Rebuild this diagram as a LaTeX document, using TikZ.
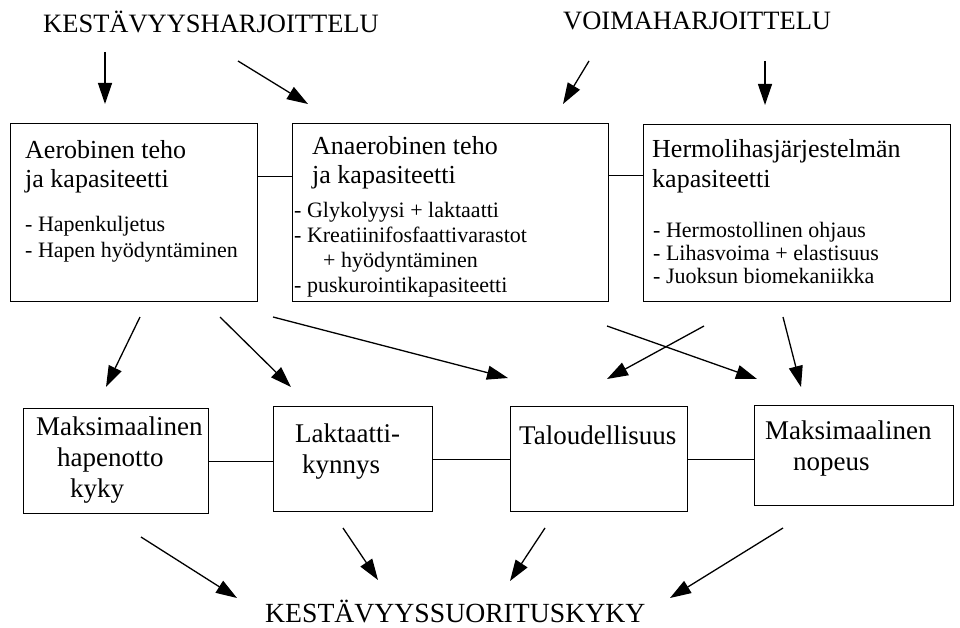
\documentclass[tikz,border=0pt]{standalone}
\usepackage{fontspec}
\setmainfont{Liberation Serif}
\usetikzlibrary{arrows.meta}

\begin{document}
\begin{tikzpicture}[x=1pt,y=-1pt,
    box/.style={draw,line width=1.3pt,anchor=north west,inner sep=0pt},
    head/.style={anchor=base west,inner sep=0pt,font=\fontsize{26.5}{30}\selectfont},
    ttl/.style={anchor=base west,inner sep=0pt,align=left,font=\fontsize{26}{29}\selectfont},
    lst/.style={anchor=base west,inner sep=0pt,align=left,font=\fontsize{22}{25}\selectfont},
    btxt/.style={anchor=base west,inner sep=0pt,align=left,font=\fontsize{27}{31}\selectfont},
    arr/.style={-{Triangle[length=21pt,width=14pt]},line width=1.3pt},
    lnk/.style={line width=1.3pt}]
    \fill[white] (0,0) rectangle (960,628);
    \useasboundingbox (0,0) rectangle (960,628);
    % otsikot
    \node[head] (kesto) at (43,33) {KESTÄVYYSHARJOITTELU};
    \node[head] (voima) at (563,30) {VOIMAHARJOITTELU};
    \node[head,font=\fontsize{27.7}{31}\selectfont] (suor) at (265,622) {KESTÄVYYSSUORITUSKYKY};
    % ylärivi
    \node[box,minimum width=247pt,minimum height=178pt] (aero) at (10,123) {};
    \node[box,minimum width=316pt,minimum height=178pt] (anaero) at (292,123) {};
    \node[box,minimum width=307pt,minimum height=177pt] (hermo) at (643,124) {};
    \node[ttl] (aerot) at (25,188) {Aerobinen teho\\ja kapasiteetti};
    \node[lst] (aerol) at (25,257) {- Hapenkuljetus\\- Hapen hyödyntäminen};
    \node[ttl] (anaerot) at (312,184) {Anaerobinen teho\\ja kapasiteetti};
    \node[lst] (anaerol) at (294,292) {- Glykolyysi + laktaatti\\- Kreatiinifosfaattivarastot\\\hspace*{29pt}+ hyödyntäminen\\- puskurointikapasiteetti};
    \node[ttl,font=\fontsize{26}{30}\selectfont] (hermot) at (652,188) {Hermolihasjärjestelmän\\kapasiteetti};
    \node[lst,font=\fontsize{22}{23}\selectfont] (herml) at (653,283) {- Hermostollinen ohjaus\\- Lihasvoima + elastisuus\\- Juoksun biomekaniikka};
    \draw[lnk] ([yshift=36pt]aero.east) -- ([yshift=36pt]aero.east -| anaero.west);
    \draw[lnk] ([yshift=37pt]anaero.east) -- ([yshift=37pt]anaero.east -| hermo.west);
    % alarivi
    \node[box,minimum width=185pt,minimum height=105pt] (hapen) at (23,408) {};
    \node[box,minimum width=159pt,minimum height=105pt] (lakt) at (273,406) {};
    \node[box,minimum width=177pt,minimum height=105pt] (talous) at (510,406) {};
    \node[box,minimum width=199pt,minimum height=100pt] (nopeus) at (754,405) {};
    \node[btxt] (hapent) at (36,497) {Maksimaalinen\\\hspace*{21pt}hapenotto\\\hspace*{34pt}kyky};
    \node[btxt] (laktt) at (295,473) {Laktaatti-\\\hspace*{7pt}kynnys};
    \node[btxt] (taloust) at (519,444) {Taloudellisuus};
    \node[btxt] (nopeust) at (765,470) {Maksimaalinen\\\hspace*{28pt}nopeus};
    \draw[lnk] (hapen.east) -- (hapen.east -| lakt.west);
    \draw[lnk] (lakt.east) -- (talous.west);
    \draw[lnk] (talous.east) -- (talous.east -| nopeus.west);
    % nuolten päät
    \coordinate (k1) at (105,52);  \coordinate (k1e) at (105,104);
    \coordinate (k2) at (238,61);  \coordinate (k2e) at (308,104);
    \coordinate (v1) at (589,61);  \coordinate (v1e) at (563,104);
    \coordinate (v2) at (765,61);  \coordinate (v2e) at (765,105);
    \coordinate (a1) at (140,317); \coordinate (a1e) at (106,387);
    \coordinate (a2) at (220,317); \coordinate (a2e) at (291,387);
    \coordinate (a3) at (273,317); \coordinate (a3e) at (508,378);
    \coordinate (h1) at (704,326); \coordinate (h1e) at (607,379);
    \coordinate (n1) at (607,326); \coordinate (n1e) at (757,379);
    \coordinate (h2) at (783,317); \coordinate (h2e) at (801,387);
    \coordinate (s1) at (141,537); \coordinate (s1e) at (237,598);
    \coordinate (s2) at (343,528); \coordinate (s2e) at (378,580);
    \coordinate (s3) at (545,528); \coordinate (s3e) at (510,581);
    \coordinate (s4) at (783,528); \coordinate (s4e) at (670,598);
    \foreach \p in {k1,k2,v1,v2,a1,a2,a3,h1,n1,h2,s1,s2,s3,s4}
      \draw[arr] (\p) -- (\p e);
  \end{tikzpicture}
\end{document}
